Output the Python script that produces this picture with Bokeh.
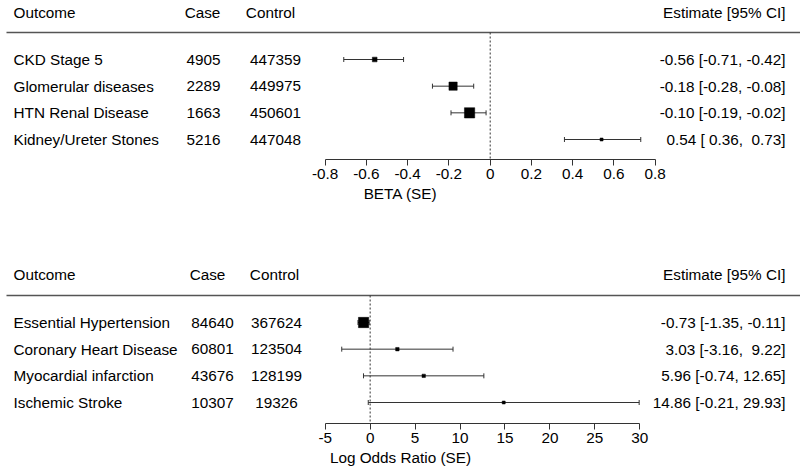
from bokeh.plotting import figure
from bokeh.models import Range1d, LinearAxis, FixedTicker, ColumnDataSource, Whisker, TeeHead
from bokeh.layouts import column
from bokeh.embed import file_html
from bokeh.resources import INLINE
from bokeh.core.properties import value

# ---------------- data ----------------
top_outcomes = ["CKD Stage 5", "Glomerular diseases", "HTN Renal Disease", "Kidney/Ureter Stones"]
top_cases = [4905, 2289, 1663, 5216]
top_controls = [447359, 449975, 450601, 447048]
top_est = [-0.56, -0.18, -0.10, 0.54]
top_lo = [-0.71, -0.28, -0.19, 0.36]
top_hi = [-0.42, -0.08, -0.02, 0.73]
top_ticks = [-0.8, -0.6, -0.4, -0.2, 0, 0.2, 0.4, 0.6, 0.8]
top_tick_labels = ["-0.8", "-0.6", "-0.4", "-0.2", "0", "0.2", "0.4", "0.6", "0.8"]
top_xlabel = "BETA (SE)"

bot_outcomes = ["Essential Hypertension", "Coronary Heart Disease", "Myocardial infarction", "Ischemic Stroke"]
bot_cases = [84640, 60801, 43676, 10307]
bot_controls = [367624, 123504, 128199, 19326]
bot_est = [-0.73, 3.03, 5.96, 14.86]
bot_lo = [-1.35, -3.16, -0.74, -0.21]
bot_hi = [-0.11, 9.22, 12.65, 29.93]
bot_ticks = [-5, 0, 5, 10, 15, 20, 25, 30]
bot_tick_labels = ["-5", "0", "5", "10", "15", "20", "25", "30"]
bot_xlabel = "Log Odds Ratio (SE)"

headers = ["Outcome", "Case", "Control", "Estimate [95% CI]"]

FONT = "Liberation Sans"
FS = "15.3px"
W = 800
ROW = 26.67
NBSP = "\u00a0"


def fmt(v, width):
    s = "%.2f" % v
    return NBSP * (width - len(s)) + s


def panel(outcomes, cases, controls, est, lo, hi, ticks, tick_labels, xlabel,
          height, bottom_border, header_px, line_px, row0, ax_px,
          case_hx, case_dx, ctrl_hx, ctrl_dx):
    n = len(outcomes)
    frame_h = height - bottom_border
    (p0, p1) = ax_px
    scale = (p1 - p0) / (ticks[-1] - ticks[0])
    xs = ticks[0] - p0 / scale
    xe = ticks[-1] + (W - p1) / scale
    y_top = -row0 / ROW
    y_bot = (frame_h - row0) / ROW

    def py(px):
        return (px - row0) / ROW

    p = figure(width=W, height=height, output_backend="svg", toolbar_location=None,
               x_range=Range1d(xs, xe), y_range=Range1d(y_bot, y_top),
               min_border_left=0, min_border_right=0, min_border_top=0,
               min_border_bottom=bottom_border, x_axis_location=None, y_axis_location=None)
    p.extra_x_ranges = {"px": Range1d(0, W)}
    p.grid.visible = False
    p.outline_line_color = None
    p.background_fill_color = "white"
    p.border_fill_color = "white"

    ax = LinearAxis(ticker=FixedTicker(ticks=ticks), bounds=(ticks[0], ticks[-1]))
    ax.major_label_overrides = {t: l for t, l in zip(ticks, tick_labels)}
    ax.axis_line_color = "#333333"
    ax.major_tick_line_color = "#333333"
    ax.major_tick_out = 6
    ax.major_tick_in = 0
    ax.minor_tick_line_color = None
    ax.major_label_text_font = FONT
    ax.major_label_text_font_size = FS
    ax.major_label_text_color = "black"
    ax.major_label_standoff = 3
    ax.axis_label = xlabel
    ax.axis_label_text_font = FONT
    ax.axis_label_text_font_size = FS
    ax.axis_label_text_font_style = "normal"
    ax.axis_label_text_color = "black"
    ax.axis_label_standoff = 3
    p.add_layout(ax, "below")

    rows = list(range(n))
    header_y = py(header_px)
    line_y = py(line_px)

    # header line
    p.segment(x0=[6], x1=[W], y0=[line_y], y1=[line_y], line_color="#555555",
              line_width=1.5, x_range_name="px")
    # zero reference line
    p.segment(x0=[0], x1=[0], y0=[line_y], y1=[y_bot], line_color="#333333",
              line_width=1, line_dash="2 2")

    wts = [1 / (h - l) for h, l in zip(hi, lo)]
    wmin, wmax = min(wts), max(wts)
    sizes = [3 + 7.3 * (w - wmin) / (wmax - wmin) for w in wts]
    src = ColumnDataSource(dict(y=rows, est=est, lo=lo, hi=hi, size=sizes))
    wh = Whisker(source=src, base="y", lower="lo", upper="hi", dimension="width",
                 line_color="#333333", line_width=1,
                 lower_head=TeeHead(size=5, line_color="#333333", line_width=1),
                 upper_head=TeeHead(size=5, line_color="#333333", line_width=1))
    p.add_layout(wh)
    p.scatter(x="est", y="y", size="size", marker="square", source=src,
              fill_color="black", line_color="black", line_width=0.5)

    tkw = dict(text_font=value(FONT), text_font_size=FS, text_color="black",
               text_baseline="middle", x_range_name="px")
    p.text(x=[13], y=[header_y], text=[headers[0]], text_align="left", **tkw)
    p.text(x=[case_hx], y=[header_y], text=[headers[1]], text_align="center", **tkw)
    p.text(x=[ctrl_hx], y=[header_y], text=[headers[2]], text_align="center", **tkw)
    p.text(x=[785], y=[header_y], text=[headers[3]], text_align="right", **tkw)

    w_est = max(len("%.2f" % v) for v in est)
    w_lo = max(len("%.2f" % v) for v in lo)
    w_hi = max(len("%.2f" % v) for v in hi)
    labels = ["%s [%s, %s]" % (fmt(e, w_est), fmt(l, w_lo), fmt(h, w_hi))
              for e, l, h in zip(est, lo, hi)]
    p.text(x=[13] * n, y=rows, text=outcomes, text_align="left", **tkw)
    p.text(x=[case_dx] * n, y=rows, text=[str(c) for c in cases], text_align="center", **tkw)
    p.text(x=[ctrl_dx] * n, y=rows, text=[str(c) for c in controls], text_align="center", **tkw)
    p.text(x=[785] * n, y=rows, text=labels, text_align="right", **tkw)
    return p


top = panel(top_outcomes, top_cases, top_controls, top_est, top_lo, top_hi,
            top_ticks, top_tick_labels, top_xlabel,
            height=234, bottom_border=75, header_px=12, line_px=32, row0=59,
            ax_px=(324.7, 654.7),
            case_hx=202, case_dx=203, ctrl_hx=270, ctrl_dx=275)
bot = panel(bot_outcomes, bot_cases, bot_controls, bot_est, bot_lo, bot_hi,
            bot_ticks, bot_tick_labels, bot_xlabel,
            height=236, bottom_border=47, header_px=40, line_px=61, row0=88,
            ax_px=(324.7, 639.3),
            case_hx=207, case_dx=212, ctrl_hx=274, ctrl_dx=276)

layout = column(top, bot, spacing=0)
open("out.html", "w").write(file_html(layout, INLINE))
